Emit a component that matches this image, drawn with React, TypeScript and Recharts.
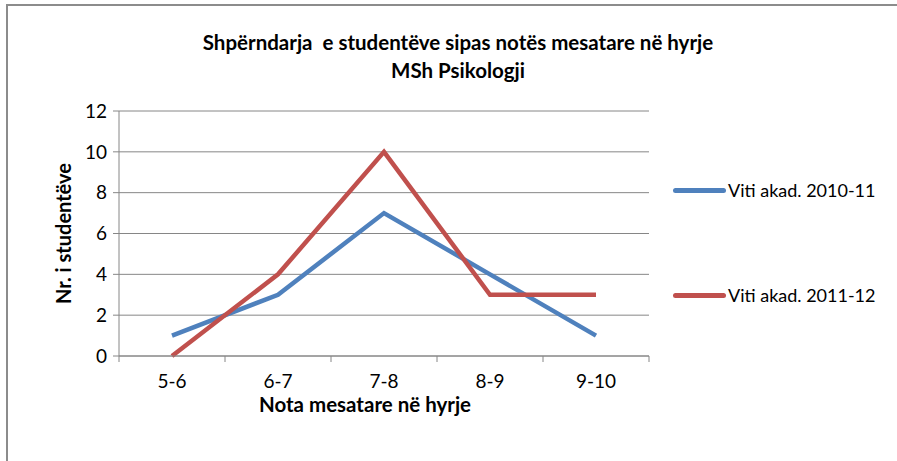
import React from "react"
import { LineChart, Line, XAxis, YAxis, CartesianGrid, Legend } from "recharts"

const kategorite = ["5-6", "6-7", "7-8", "8-9", "9-10"]
const viti2010 = [1, 3, 7, 4, 1]
const viti2011 = [0, 4, 10, 3, 3]
const yTicks = [0, 2, 4, 6, 8, 10, 12]

const seriet = [
  { key: "v2010", emri: "Viti akad. 2010-11", ngjyra: "#4F81BD" },
  { key: "v2011", emri: "Viti akad. 2011-12", ngjyra: "#C0504D" },
]

const dhenat = kategorite.map((k, i) => ({ kat: k, v2010: viti2010[i], v2011: viti2011[i] }))

const FONT = "Lato, 'Noto Sans', sans-serif"
const W = 897
const H = 461
const PLOT_LEFT = 119
const PLOT_RIGHT = 649
const PLOT_TOP = 111
const PLOT_BOTTOM = 356
const BAND = (PLOT_RIGHT - PLOT_LEFT) / kategorite.length
const GRI = "#868686"

function XTick(props: any) {
  const { x, y, payload, index } = props
  const half = BAND / 2
  return (
    <g>
      <line x1={x - half} x2={x - half} y1={y} y2={y + 6} stroke={GRI} />
      {index === kategorite.length - 1 && (
        <line x1={x + half} x2={x + half} y1={y} y2={y + 6} stroke={GRI} />
      )}
      <text x={x} y={y + 32} textAnchor="middle" fontSize={19} fill="#000" fontFamily={FONT}>
        {payload.value}
      </text>
    </g>
  )
}

function Legjenda(props: any) {
  const { payload } = props
  return (
    <div style={{ fontFamily: FONT, fontSize: 18 }}>
      {(payload || []).map((p: any, i: number) => (
        <div key={i} style={{ display: "flex", alignItems: "center", height: 22, marginBottom: i === 0 ? 83 : 0 }}>
          <div style={{ width: 53, height: 5, borderRadius: 3, background: p.color, marginRight: 2 }} />
          <span>{p.value}</span>
        </div>
      ))}
    </div>
  )
}

export default function App() {
  return (
    <div style={{ position: "fixed", left: 0, top: 0, width: W, height: H, background: "#fff", overflow: "hidden" }}>
      {/* korniza: vetëm majtas dhe lart */}
      <div
        style={{
          position: "absolute",
          left: 6,
          top: 4,
          width: W - 6,
          height: H - 4,
          borderLeft: "2px solid #8c8c8c",
          borderTop: "2px solid #8c8c8c",
          boxSizing: "border-box",
        }}
      />
      <div
        style={{
          position: "absolute",
          left: 0,
          width: W,
          paddingLeft: 19,
          boxSizing: "border-box",
          top: 28,
          textAlign: "center",
          fontFamily: FONT,
          fontWeight: "bold",
          fontSize: 20.5,
          lineHeight: "28px",
        }}
      >
        <div>Shpërndarja&nbsp; e studentëve sipas notës mesatare në hyrje</div>
        <div>MSh Psikologji</div>
      </div>
      <div style={{ position: "absolute", left: 0, top: 0 }}>
        <LineChart
          width={W}
          height={H}
          data={dhenat}
          margin={{ top: PLOT_TOP, right: W - PLOT_RIGHT, bottom: H - PLOT_BOTTOM - 30, left: 0 }}
        >
          <CartesianGrid vertical={false} stroke={GRI} strokeWidth={1} />
          <XAxis
            dataKey="kat"
            height={30}
            padding={{ left: BAND / 2, right: BAND / 2 }}
            axisLine={{ stroke: GRI }}
            tickLine={false}
            tickSize={0}
            tickMargin={0}
            interval={0}
            tick={<XTick />}
            label={() => (
              <text
                x={365}
                y={412}
                textAnchor="middle"
                fontFamily={FONT}
                fontWeight="bold"
                fontSize={20.5}
                fill="#000"
              >
                Nota mesatare në hyrje
              </text>
            )}
          />
          <YAxis
            width={PLOT_LEFT}
            domain={[0, 12]}
            ticks={yTicks}
            interval={0}
            axisLine={{ stroke: GRI }}
            tickLine={{ stroke: GRI }}
            tickSize={6}
            tickMargin={6}
            tick={{ fill: "#000", fontSize: 19, fontFamily: FONT }}
            label={() => (
              <text
                x={63}
                y={(PLOT_TOP + PLOT_BOTTOM) / 2}
                textAnchor="middle"
                dominantBaseline="central"
                transform={`rotate(-90 63 ${(PLOT_TOP + PLOT_BOTTOM) / 2})`}
                fontFamily={FONT}
                fontWeight="bold"
                fontSize={20}
                fill="#000"
              >
                Nr. i studentëve
              </text>
            )}
          />
          <Legend
            layout="vertical"
            align="center"
            verticalAlign="middle"
            wrapperStyle={{ left: 673, top: 179, width: 220 }}
            content={<Legjenda />}
          />
          {seriet.map((s) => (
            <Line
              key={s.key}
              type="linear"
              dataKey={s.key}
              name={s.emri}
              stroke={s.ngjyra}
              strokeWidth={4.5}
              dot={false}
              activeDot={false}
              isAnimationActive={false}
            />
          ))}
        </LineChart>
      </div>
    </div>
  )
}
